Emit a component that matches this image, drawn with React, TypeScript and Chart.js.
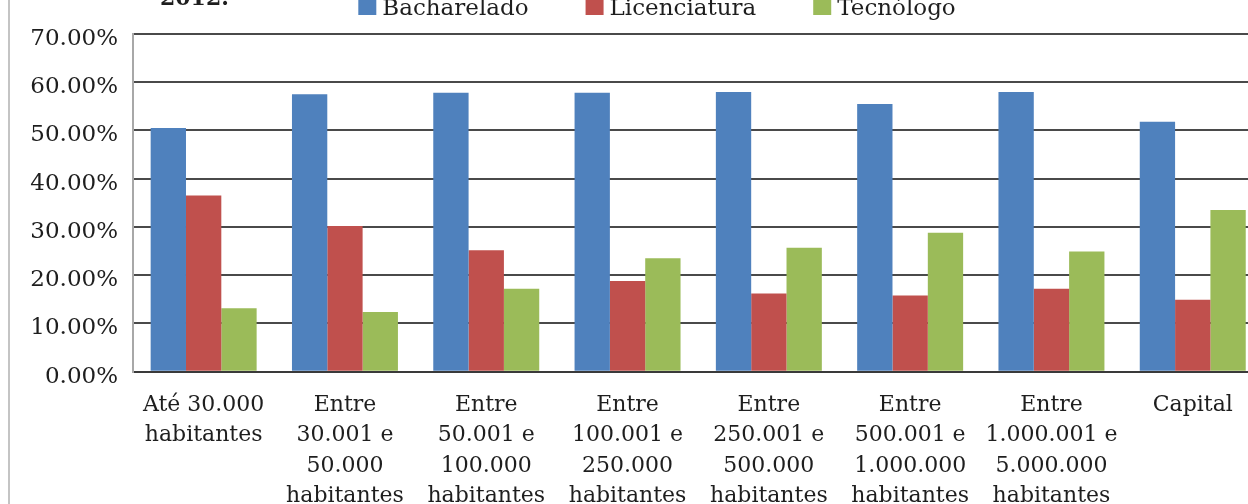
import React, { useEffect, useRef } from "react";
import { Chart, registerables } from "chart.js";

Chart.register(...registerables);

// Share of graduates by degree type, grouped by municipality size
const categories: string[][] = [
  ["Até 30.000", "habitantes"],
  ["Entre", "30.001 e", "50.000", "habitantes"],
  ["Entre", "50.001 e", "100.000", "habitantes"],
  ["Entre", "100.001 e", "250.000", "habitantes"],
  ["Entre", "250.001 e", "500.000", "habitantes"],
  ["Entre", "500.001 e", "1.000.000", "habitantes"],
  ["Entre", "1.000.001 e", "5.000.000", "habitantes"],
  ["Capital"],
];

const seriesNames = ["Bacharelado", "Licenciatura", "Tecnólogo"];
const seriesColors = ["#4F81BD", "#C0504D", "#9BBB59"];

const bacharelado = [50.5, 57.5, 57.8, 57.8, 58.0, 55.5, 58.0, 51.8];
const licenciatura = [36.5, 30.2, 25.2, 18.8, 16.2, 15.8, 17.2, 14.9];
const tecnologo = [13.15, 12.4, 17.2, 23.5, 25.7, 28.8, 24.9, 33.5];

const yMax = 70;
const yStep = 10;
const titleTail = "2012.";

const FONT = "'DejaVu Serif', 'Liberation Serif', serif";
const TEXT = "#1e1e1e";

const W = 1296;
const H = 560;

// Frame, title line and legend drawn on the canvas
const decorPlugin = {
  id: "decor",
  beforeDraw(chart: any) {
    const ctx = chart.ctx;
    ctx.save();
    ctx.fillStyle = "#ffffff";
    ctx.fillRect(0, 0, chart.width, chart.height);
    ctx.restore();
  },
  afterDraw(chart: any) {
    const ctx = chart.ctx;
    ctx.save();
    // outer frame
    ctx.strokeStyle = "#c4c4c4";
    ctx.lineWidth = 2;
    ctx.strokeRect(1, 1, chart.width - 2, chart.height - 2);

    // last line of the title
    ctx.fillStyle = TEXT;
    ctx.font = `bold 22px ${FONT}`;
    ctx.textBaseline = "alphabetic";
    ctx.textAlign = "left";
    ctx.fillText(titleTail, 152, 45);

    // legend
    ctx.font = `23px ${FONT}`;
    const box = 18;
    const gap = 6;
    const spacing = 57;
    const items = chart.data.datasets.map((d: any) => ({
      label: d.label,
      color: d.backgroundColor,
      w: ctx.measureText(d.label).width,
    }));
    const total =
      items.reduce((s: number, it: any) => s + box + gap + it.w, 0) +
      spacing * (items.length - 1);
    let x = 649 - total / 2;
    const baseY = 54.5;
    items.forEach((it: any) => {
      ctx.fillStyle = it.color;
      ctx.fillRect(x, baseY - box + 0.5, box, box);
      ctx.fillStyle = TEXT;
      ctx.fillText(it.label, x + box + gap, baseY);
      x += box + gap + it.w + spacing;
    });
    ctx.restore();
  },
};

export default function App() {
  const ref = useRef<HTMLCanvasElement | null>(null);

  useEffect(() => {
    if (!ref.current) return;
    const chart = new Chart(ref.current, {
      type: "bar",
      data: {
        labels: categories,
        datasets: [bacharelado, licenciatura, tecnologo].map((values, i) => ({
          label: seriesNames[i],
          data: values,
          backgroundColor: seriesColors[i],
          borderWidth: 0,
          categoryPercentage: 0.75,
          barPercentage: 1,
        })),
      },
      options: {
        responsive: false,
        animation: false,
        devicePixelRatio: 1,
        layout: { padding: { top: 74, left: 0, right: 40.6, bottom: 0 } },
        plugins: {
          legend: { display: false },
          title: { display: false },
          tooltip: { enabled: false },
        },
        scales: {
          x: {
            grid: { display: false, drawTicks: false },
            border: { display: true, color: "#3a3a3a", width: 2 },
            ticks: {
              color: TEXT,
              font: { family: FONT, size: 22, lineHeight: 1.39 },
              padding: 18,
              maxRotation: 0,
              autoSkip: false,
            },
            afterFit(scale: any) {
              scale.height = 148.3;
            },
          },
          y: {
            min: 0,
            max: yMax,
            grid: { color: "#4a4a4a", lineWidth: 2, drawTicks: false },
            border: { display: true, color: "#a8a8a8", width: 2 },
            ticks: {
              stepSize: yStep,
              color: TEXT,
              padding: 15,
              labelOffset: 5,
              font: { family: FONT, size: 23 },
              callback: (v: any) => Number(v).toFixed(2) + "%",
            },
            afterFit(scale: any) {
              scale.width = 125;
            },
          },
        },
      },
      plugins: [decorPlugin],
    });
    return () => chart.destroy();
  }, []);

  return (
    <div
      style={{
        position: "fixed",
        left: 0,
        top: 0,
        width: 1248,
        height: 504,
        overflow: "hidden",
        background: "#ffffff",
      }}
    >
      <canvas
        ref={ref}
        width={W}
        height={H}
        style={{ position: "absolute", left: 8, top: -40, width: W, height: H }}
      />
    </div>
  );
}
